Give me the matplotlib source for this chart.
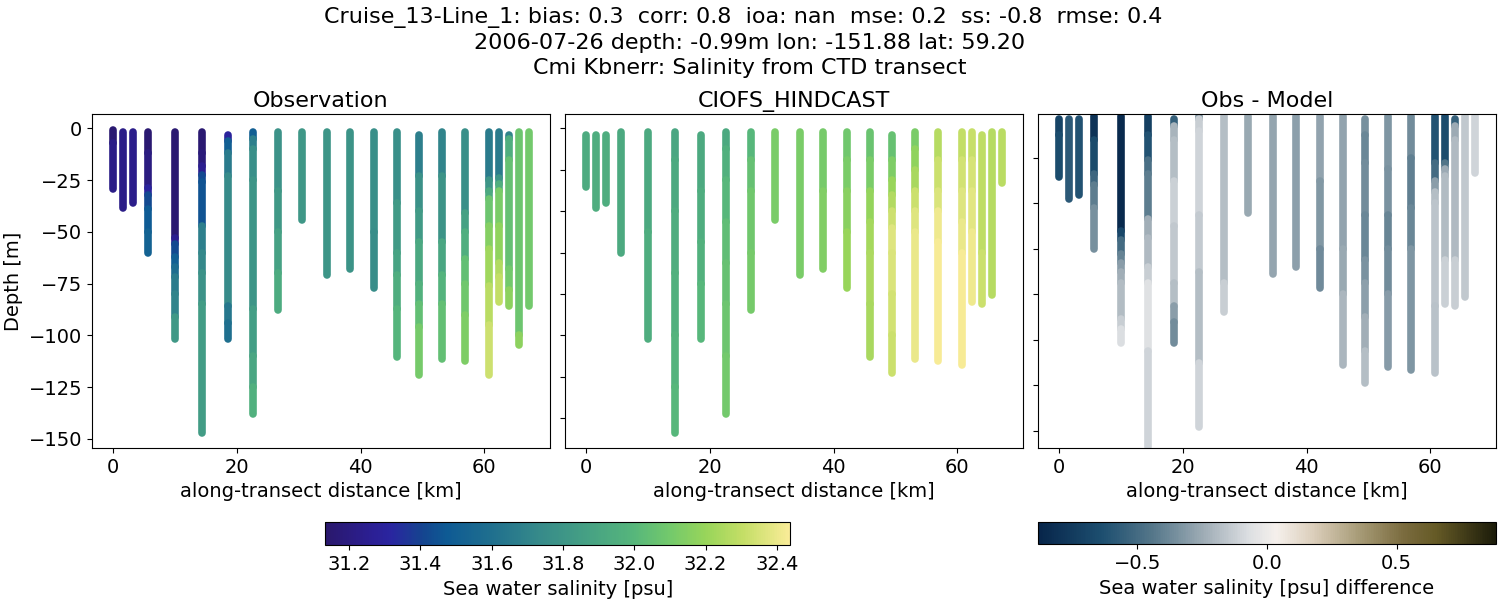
import matplotlib
matplotlib.use("Agg")
import matplotlib.pyplot as plt
from matplotlib.collections import LineCollection
from matplotlib.colors import LinearSegmentedColormap, Normalize
from matplotlib.cm import ScalarMappable

# Station distances along the transect [km]
distance_km = [0, 1.6, 3.3, 5.7, 10, 14.3, 18.6, 22.6, 26.6, 30.6, 34.5, 38.3,
               42.1, 45.8, 49.5, 53.2, 56.9, 60.7, 62.3, 64, 65.6, 67.2]

# First sampled depth at each station [m]
obs_start = [0.6, 1.7, 1.7, 1.7, 1.7, 1.7, 3, 1.7, 1.7, 1.7, 1.7, 1.7,
             1.7, 1.7, 3, 1.7, 1.7, 1.7, 1.7, 3, 1.7, 1.7]
model_start = [3, 3, 3, 1.7, 1.7, 1.7, 3, 1.7, 1.7, 1.7, 1.7, 1.7,
               1.7, 1.7, 3, 1.7, 1.7, 1.7, 1.7, 3, 1.7, 1.7]

# Layers per station: (depth at layer bottom [m], value)
obs_layers = [
    [(7, 31.15), (29.2, 31.22)],
    [(38.2, 31.22)],
    [(36.2, 31.23)],
    [(12, 31.15), (29, 31.2), (32, 31.3), (39, 31.42), (50, 31.48), (60.1, 31.52)],
    [(53, 31.15), (56, 31.25), (62, 31.42), (67, 31.5), (72, 31.58), (80, 31.66), (91, 31.7), (101.5, 31.82)],
    [(12, 31.15), (18, 31.18), (22.5, 31.25), (26, 31.42), (47, 31.45), (60, 31.68), (70, 31.72), (85, 31.78), (147, 31.84)],
    [(6, 31.3), (12, 31.5), (23, 31.66), (86, 31.74), (94, 31.64), (101.5, 31.6)],
    [(5, 31.5), (10, 31.68), (25, 31.76), (87, 31.8), (110, 31.85), (125, 31.9), (138.2, 31.96)],
    [(30, 31.78), (50, 31.82), (70, 31.87), (87.5, 31.93)],
    [(44, 31.81)],
    [(70.9, 31.8)],
    [(68.1, 31.79)],
    [(50, 31.76), (77, 31.75)],
    [(36, 31.76), (60, 31.83), (71, 31.88), (87, 31.94), (110.3, 31.99)],
    [(23, 31.68), (40, 31.77), (55, 31.83), (75, 31.91), (85, 31.97), (96, 32.04), (119.3, 32.11)],
    [(23, 31.7), (55, 31.79), (71, 31.9), (85, 31.98), (111.3, 32.04)],
    [(41, 31.76), (50, 31.87), (63, 31.95), (75, 32.04), (90, 32.09), (112.4, 32.13)],
    [(25, 31.66), (30, 31.8), (34, 31.92), (47, 32.08), (58, 32.15), (76, 32.22), (95, 32.28), (119.3, 32.33)],
    [(24, 31.66), (27, 31.8), (30, 31.95), (47, 32.12), (65, 32.18), (72, 32.26), (83.8, 32.3)],
    [(5, 31.7), (15, 31.95), (68, 32.05), (78, 32.1), (85.8, 32.17)],
    [(100, 32.08), (104.5, 32.17)],
    [(85.8, 32.1)],
]

model_layers = [
    [(28.4, 31.93)],
    [(38.2, 31.94)],
    [(36.2, 31.94)],
    [(60.1, 31.92)],
    [(50, 31.92), (101.5, 31.94)],
    [(15, 31.9), (40, 31.92), (70, 31.94), (100, 31.96), (125, 31.98), (147, 32.0)],
    [(30, 31.92), (55, 31.94), (75, 31.97), (101.5, 32.0)],
    [(10, 31.92), (25, 31.96), (45, 32.0), (65, 32.03), (85, 32.06), (110, 32.08), (138.2, 32.1)],
    [(15, 32.0), (30, 32.05), (60, 32.09), (87.5, 32.11)],
    [(44, 32.12)],
    [(70.9, 32.12)],
    [(30, 32.11), (68.1, 32.14)],
    [(15, 32.09), (30, 32.12), (50, 32.16), (77, 32.2)],
    [(15, 32.07), (30, 32.12), (45, 32.19), (60, 32.23), (85, 32.25), (110.3, 32.24)],
    [(15, 32.06), (25, 32.13), (32, 32.2), (40, 32.26), (48, 32.33), (60, 32.37), (80, 32.36), (100, 32.34), (118, 32.32)],
    [(10, 32.12), (20, 32.18), (30, 32.24), (40, 32.32), (50, 32.37), (111.3, 32.4)],
    [(15, 32.27), (30, 32.32), (40, 32.36), (55, 32.41), (112.4, 32.43)],
    [(15, 32.3), (30, 32.34), (45, 32.37), (60, 32.4), (114.2, 32.43)],
    [(15, 32.31), (30, 32.35), (50, 32.38), (83.8, 32.41)],
    [(60, 32.29), (84.8, 32.32)],
    [(80.5, 32.27)],
    [(26.3, 32.28)],
]

diff_layers = [
    [(10, -0.7), (28.4, -0.65)],
    [(38.2, -0.58)],
    [(36.2, -0.62)],
    [(12, -0.8), (27, -0.66), (32, -0.52), (42, -0.42), (60.1, -0.35)],
    [(52, -0.85), (56, -0.68), (62, -0.5), (66, -0.4), (70, -0.3), (75, -0.24), (91, -0.19), (95, -0.13), (101.5, -0.07)],
    [(10, -0.72), (21, -0.62), (27, -0.48), (47, -0.42), (55, -0.24), (68, -0.2), (75, -0.13), (105, -0.06), (147, -0.11)],
    [(6, -0.55), (12, -0.22), (30, -0.18), (50, -0.12), (75, -0.15), (85, -0.18), (92, -0.3), (101.5, -0.36)],
    [(3, -0.35), (8, -0.13), (45, -0.11), (70, -0.14), (110, -0.18), (138.2, -0.11)],
    [(75, -0.18), (87.5, -0.13)],
    [(44, -0.26)],
    [(70.9, -0.27)],
    [(68.1, -0.29)],
    [(30, -0.28), (60, -0.32), (77, -0.37)],
    [(60, -0.28), (80, -0.26), (110.8, -0.21)],
    [(10, -0.35), (22, -0.38), (45, -0.36), (65, -0.38), (75, -0.34), (90, -0.29), (105, -0.24), (118.9, -0.18)],
    [(25, -0.33), (45, -0.34), (60, -0.39), (80, -0.36), (111.8, -0.31)],
    [(20, -0.36), (42, -0.41), (60, -0.38), (113, -0.33)],
    [(22, -0.62), (30, -0.5), (35, -0.3), (40, -0.18), (85, -0.16), (114.7, -0.17)],
    [(22, -0.65), (25, -0.45), (28, -0.25), (65, -0.19), (84.1, -0.12)],
    [(6, -0.55), (12, -0.25), (65, -0.2), (85.1, -0.13)],
    [(81.2, -0.15)],
    [(26.5, -0.11)],
]

salinity_limits = (31.133, 32.437)
diff_limits = (-0.883, 0.883)
obs_depth_ticks = [0, -25, -50, -75, -100, -125, -150]
model_depth_ticks = [0, -20, -40, -60, -80, -100, -120, -140]
diff_depth_ticks = [-20, -40, -60, -80, -100, -120, -140]
distance_ticks = [0, 20, 40, 60]

title_text = ("Cruise_13-Line_1: bias: 0.3  corr: 0.8  ioa: nan  mse: 0.2  ss: -0.8  rmse: 0.4  \n"
              "2006-07-26 depth: -0.99m lon: -151.88 lat: 59.20\n"
              "Cmi Kbnerr: Salinity from CTD transect")

haline = LinearSegmentedColormap.from_list("haline_like", [
    (0.00, "#2a186c"), (0.10, "#2b1f94"), (0.14, "#2a25a0"), (0.21, "#14458f"),
    (0.26, "#0e5a94"), (0.36, "#20708e"), (0.46, "#368a8a"), (0.56, "#45a084"),
    (0.66, "#55b57c"), (0.74, "#72c96c"), (0.82, "#98d55a"), (0.90, "#c4de66"),
    (1.00, "#f9ec98")])
diff_map = LinearSegmentedColormap.from_list("diff_like", [
    (0.00, "#07254a"), (0.14, "#1d4f70"), (0.25, "#55778a"), (0.36, "#9eacb5"),
    (0.46, "#dcdfe2"), (0.52, "#f5f0ec"), (0.60, "#dccfbc"), (0.70, "#a89c78"),
    (0.80, "#7a6b3e"), (0.87, "#655a26"), (1.00, "#1c1c0a")])

plt.rcParams.update({"font.size": 14, "axes.titlesize": 16, "axes.labelsize": 14})
W, H = 1500, 600
fig = plt.figure(figsize=(W / 100, H / 100), dpi=100)


def box(x0, x1, y0, y1):
    return [x0 / W, 1 - y1 / H, (x1 - x0) / W, (y1 - y0) / H]


def draw_profiles(ax, starts, layers, cmap, limits):
    segments, values = [], []
    for x, start, station in zip(distance_km, starts, layers):
        top = start
        for bottom, value in station:
            segments.append([(x, -top), (x, -bottom)])
            values.append(value)
            top = bottom
    coll = LineCollection(segments, array=values, cmap=cmap,
                          norm=Normalize(*limits), linewidths=5.5,
                          capstyle="round")
    ax.add_collection(coll)


ax1 = fig.add_axes(box(92, 550, 114, 448))
ax2 = fig.add_axes(box(565, 1023, 114, 448))
ax3 = fig.add_axes(box(1038, 1496, 114, 448))

draw_profiles(ax1, obs_start, obs_layers, haline, salinity_limits)
draw_profiles(ax2, model_start, model_layers, haline, salinity_limits)
draw_profiles(ax3, model_start, diff_layers, diff_map, diff_limits)

for ax, title in zip((ax1, ax2, ax3), ("Observation", "CIOFS_HINDCAST", "Obs - Model")):
    ax.set_title(title, pad=5.2)
    ax.set_xlim(-3.4, 70.6)
    ax.set_xticks(distance_ticks)
    ax.set_xlabel("along-transect distance [km]")

ax1.set_ylim(-154.4, 7)
ax2.set_ylim(-154.4, 7)
ax3.set_ylim(-147.5, -0.66)
ax1.set_yticks(obs_depth_ticks)
ax2.set_yticks(model_depth_ticks)
ax3.set_yticks(diff_depth_ticks)
ax2.set_yticklabels([])
ax3.set_yticklabels([])
ax1.set_ylabel("Depth [m]", labelpad=4)

cax1 = fig.add_axes(box(325.3, 790, 522.3, 545.3))
cb1 = fig.colorbar(ScalarMappable(Normalize(*salinity_limits), haline),
                   cax=cax1, orientation="horizontal")
cb1.set_ticks([31.2, 31.4, 31.6, 31.8, 32.0, 32.2, 32.4])
cb1.set_label("Sea water salinity [psu]")

cax2 = fig.add_axes(box(1038, 1496, 522.3, 544.3))
cb2 = fig.colorbar(ScalarMappable(Normalize(*diff_limits), diff_map),
                   cax=cax2, orientation="horizontal")
cb2.set_ticks([-0.5, 0.0, 0.5])
cb2.set_label("Sea water salinity [psu] difference")

fig.suptitle(title_text, fontsize=16, x=0.5, y=0.989, va="top", linespacing=1.31)

fig.savefig("out.png", dpi=100)
